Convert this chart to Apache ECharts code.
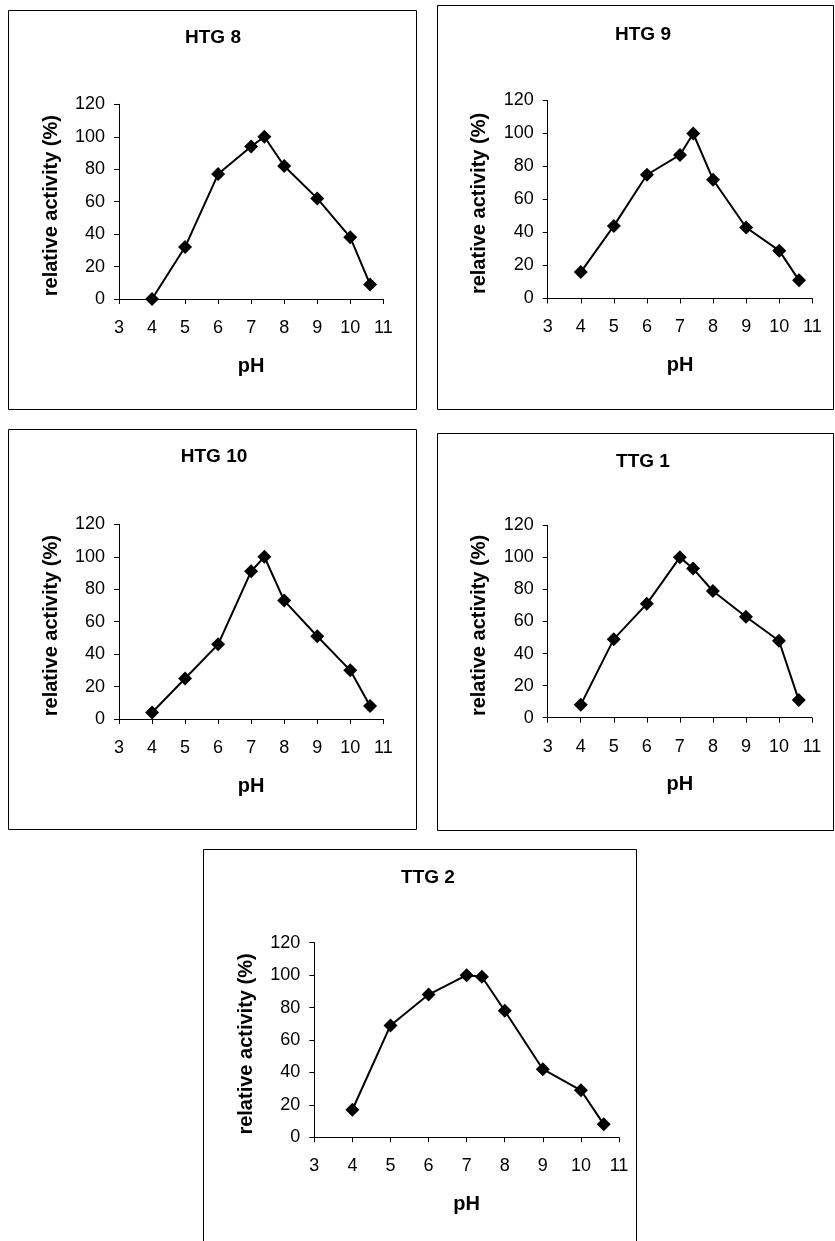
<!DOCTYPE html>
<html>
<head>
<meta charset="utf-8">
<title>pH profiles of relative activity</title>
<script src="https://cdn.jsdelivr.net/npm/echarts@6/dist/echarts.min.js"></script>
<style>
  html, body { margin: 0; padding: 0; background: #ffffff; }
  #chart { width: 835px; height: 1241px; }
</style>
</head>
<body>
<div id="chart"></div>
<script>
// pH values at which activity was measured (shared by all strains)
const phValues = [4, 5, 6, 7, 7.4, 8, 9, 10, 10.6];

// relative activity (%) per strain
const htg8  = [0, 32, 77, 94, 100, 82, 62, 38, 9];
const htg9  = [16, 44, 75, 87, 100, 72, 43, 29, 11];
const htg10 = [4, 25, 46, 91, 100, 73, 51, 30, 8];
const ttg1  = [8, 49, 71, 100, 93, 79, 63, 48, 11];
const ttg2  = [17, 69, 88, 100, 99, 78, 42, 29, 8];

const panelNames = ['HTG 8', 'HTG 9', 'HTG 10', 'TTG 1', 'TTG 2'];
const panelData = [htg8, htg9, htg10, ttg1, ttg2];

// axis ranges / tick steps
const xMin = 3, xMax = 11, xStep = 1;
const yMin = 0, yMax = 120, yStep = 20;

const FONT = '"Liberation Sans", Arial, Helvetica, sans-serif';

// layout of each panel: frame box, plot area, title centre
const panels = [
  { box: [8, 10, 408, 399],    grid: { left: 119,   top: 104.3, width: 264.3, height: 194.7 }, title: [213, 38] },
  { box: [437, 5, 396, 404],   grid: { left: 547.7, top: 100.5, width: 264.6, height: 198 },   title: [643, 35] },
  { box: [8, 429, 408, 400],   grid: { left: 119,   top: 524.3, width: 264.3, height: 194.7 }, title: [214, 457] },
  { box: [437, 433, 396, 397], grid: { left: 547.7, top: 525.3, width: 264.3, height: 192.4 }, title: [643, 462] },
  { box: [203, 849, 433, 392], grid: { left: 314.3, top: 942.7, width: 304.7, height: 194.6 }, title: [428, 878] }
];

const chart = echarts.init(document.getElementById('chart'), null, { renderer: 'canvas' });

const grids = [], xAxes = [], yAxes = [], series = [], graphics = [];

panels.forEach((p, i) => {
  grids.push(Object.assign({ containLabel: false }, p.grid));

  xAxes.push({
    type: 'value', gridIndex: i,
    min: xMin, max: xMax, interval: xStep,
    name: 'pH', nameLocation: 'middle', nameGap: 57,
    nameTextStyle: { fontFamily: FONT, fontWeight: 'bold', fontSize: 20, color: '#000' },
    axisLine: { show: true, onZero: false, lineStyle: { color: '#000', width: 1 } },
    axisTick: { show: true, inside: false, length: 5, lineStyle: { color: '#000', width: 1 } },
    axisLabel: { fontFamily: FONT, fontSize: 18, color: '#000', margin: 20 },
    splitLine: { show: false }
  });

  yAxes.push({
    type: 'value', gridIndex: i,
    min: yMin, max: yMax, interval: yStep,
    name: 'relative activity (%)', nameLocation: 'middle', nameGap: 58, nameRotate: 90,
    nameTextStyle: { fontFamily: FONT, fontWeight: 'bold', fontSize: 20, color: '#000', padding: [0, 8, 0, 0] },
    axisLine: { show: true, onZero: false, lineStyle: { color: '#000', width: 1 } },
    axisTick: { show: true, inside: false, length: 5, lineStyle: { color: '#000', width: 1 } },
    axisLabel: { fontFamily: FONT, fontSize: 18, color: '#000', margin: 14 },
    splitLine: { show: false }
  });

  series.push({
    type: 'line', xAxisIndex: i, yAxisIndex: i,
    data: phValues.map((ph, k) => [ph, panelData[i][k]]),
    symbol: 'diamond', symbolSize: 14,
    itemStyle: { color: '#000' },
    lineStyle: { color: '#000', width: 2 },
    animation: false, silent: true
  });

  // panel frame
  graphics.push({
    type: 'rect',
    shape: { x: p.box[0] + 0.5, y: p.box[1] + 0.5, width: p.box[2], height: p.box[3] },
    style: { fill: 'none', stroke: '#000', lineWidth: 1 },
    silent: true
  });

  // panel title
  graphics.push({
    type: 'text',
    x: p.title[0], y: p.title[1],
    style: {
      text: panelNames[i],
      fontFamily: FONT, fontWeight: 'bold', fontSize: 19, fill: '#000',
      align: 'center', verticalAlign: 'middle'
    },
    silent: true
  });
});

chart.setOption({
  backgroundColor: '#ffffff',
  animation: false,
  grid: grids,
  xAxis: xAxes,
  yAxis: yAxes,
  series: series,
  graphic: graphics
});
</script>
</body>
</html>
